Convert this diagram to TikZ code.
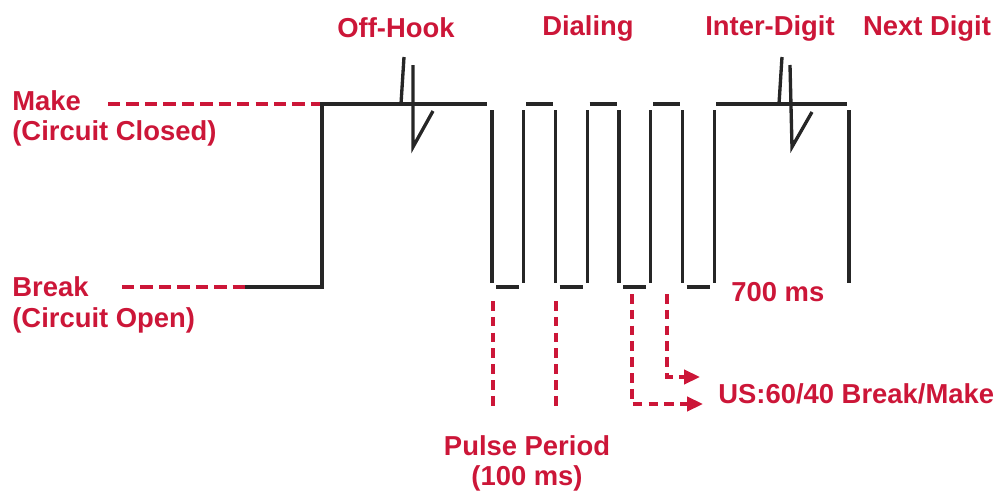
\documentclass[tikz,border=0pt]{standalone}
\usepackage{fontspec}
\setmainfont{Liberation Sans}
\usetikzlibrary{arrows.meta}
\definecolor{dialred}{RGB}{204,22,56}
\tikzset{every node/.append style={font=\bfseries\fontsize{15.6}{18}\selectfont, text=dialred, inner sep=0pt}}

\begin{document}
\begin{tikzpicture}[x=0.02cm, y=-0.02cm, >={Triangle[length=9pt, width=8pt]},
    wave/.style={line width=1.9pt, black!85},
    lead/.style={dialred, line width=2pt, dash pattern=on 7pt off 3.5pt},
    tick/.style={dialred, line width=2pt, dash pattern=on 5.5pt off 3.5pt}]
    \useasboundingbox (0,0) rectangle (1002,494);
    % phases
    \node (hook) at (396,28) {Off-Hook};
    \node (dial) at (588,28) {Dialing};
    \node (inter) at (770,28) {Inter-Digit};
    \node (next) at (927,28) {Next Digit};
    % levels
    \node[anchor=west] (make) at (12,101) {Make};
    \node[anchor=west] (closed) at (12,133) {(Circuit Closed)};
    \node[anchor=west] (brk) at (12,287) {Break};
    \node[anchor=west] (open) at (12,320) {(Circuit Open)};
    \coordinate (mk) at (322,104);
    \coordinate (br) at (245,287);
    \draw[lead] (108,104) -- (mk);
    \draw[lead] (122,287) -- (br);
    % off-hook
    \draw[wave] (br) -- (322,287) -- (mk) -- (487,104);
    \draw[wave] (404,57) -- (401,104);
    \draw[wave] (413,65) -- (413,147) -- (433,111);
    % pulses
    \foreach \k in {0,...,3} {
        \pgfmathsetmacro{\a}{492+63.5*\k}
        \draw[wave] (\a,110) -- (\a,283);
        \draw[wave] (\a+4,287) -- (\a+27,287);
        \draw[wave] (\a+31.75,110) -- (\a+31.75,283);
        \ifnum\k<3
            \draw[wave] (\a+34,104) -- (\a+61,104);
        \fi
    }
    % inter-digit
    \draw[wave] (716,104) -- (847,104);
    \draw[wave] (849,110) -- (849,283);
    \draw[wave] (782,57) -- (779,104);
    \draw[wave] (790,65) -- (792,147) -- (812,112);
    \node[anchor=west] (gap) at (731,292) {700 ms};
    % timing
    \node (period) at (527,446) {Pulse Period};
    \node (ms) at (527,478) {(100 ms)};
    \node[anchor=west] (us) at (718,394) {US:60/40 Break/Make};
    \coordinate (p1) at (493,301);
    \coordinate (p2) at (556,301);
    \coordinate (b1) at (632,294);
    \coordinate (b2) at (667,294);
    \coordinate (u1) at (703,404);
    \coordinate (u2) at (700,377);
    \draw[tick] (p1) -- (493,406);
    \draw[tick] (p2) -- (556,406);
    \draw[tick, ->] (b1) |- (u1);
    \draw[tick, ->] (b2) |- (u2);
\end{tikzpicture}
\end{document}
